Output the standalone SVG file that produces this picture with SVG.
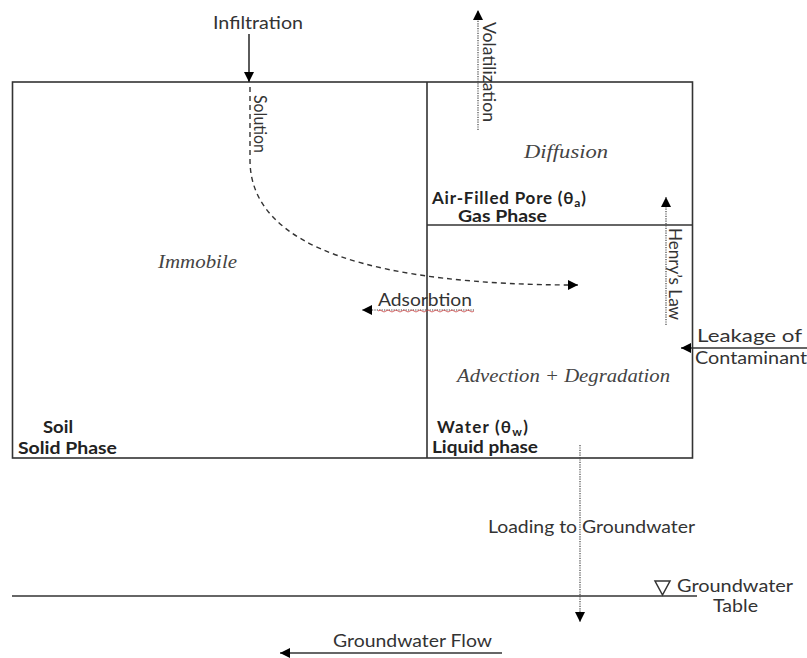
<svg xmlns="http://www.w3.org/2000/svg" width="807" height="658" viewBox="0 0 807 658">
<style>
.s{font-family:Lato,"Open Sans","Liberation Sans",sans-serif;font-size:17px;fill:#333}
.b{font-family:Lato,"Open Sans","Liberation Sans",sans-serif;font-size:17px;font-weight:bold;fill:#222}
.i{font-family:"Liberation Serif",serif;font-size:19px;font-style:italic;fill:#444}
.ln{stroke:#333;stroke-width:1.6;fill:none}
.dot{stroke:#444;stroke-width:1.2;stroke-dasharray:1.2 1.2;fill:none}
</style>
<defs>
<marker id="ah" viewBox="0 0 10 10" refX="10" refY="5" markerWidth="10" markerHeight="10" markerUnits="userSpaceOnUse" orient="auto">
<path d="M0,0 L10,5 L0,10 Z" fill="#000"/>
</marker>
</defs>
<rect width="807" height="658" fill="#fff"/>
<g id="box">
<rect x="12.5" y="82" width="680" height="376" class="ln"/>
<line x1="427" y1="82" x2="427" y2="458" class="ln"/>
<line x1="427" y1="225" x2="692.5" y2="225" class="ln"/>
</g>
<g id="groundwater-table">
<line x1="12" y1="596" x2="697" y2="596" class="ln" stroke-width="1.3"/>
<path d="M655,581 L670,581 L662.5,595 Z" fill="none" stroke="#333" stroke-width="1.5"/>
<text class="s" x="677" y="592" textLength="116" lengthAdjust="spacingAndGlyphs">Groundwater</text>
<text class="s" x="713" y="612" textLength="45" lengthAdjust="spacingAndGlyphs">Table</text>
</g>
<g id="connectors">
<line x1="249" y1="34" x2="249" y2="82" class="ln" marker-end="url(#ah)"/>
<path d="M250,87 L250,160 C250,250 380,285 578,285" stroke="#333" stroke-width="1.4" stroke-dasharray="5 4" fill="none" marker-end="url(#ah)"/>
<line x1="478" y1="130" x2="478" y2="10" class="dot" marker-end="url(#ah)"/>
<line x1="666" y1="325" x2="666" y2="197" class="dot" marker-end="url(#ah)"/>
<line x1="474" y1="310" x2="362" y2="310" class="dot" marker-end="url(#ah)"/>
<line x1="807" y1="348" x2="681" y2="348" class="ln" stroke-width="1.3" marker-end="url(#ah)"/>
<line x1="580" y1="445" x2="580" y2="622" class="dot" marker-end="url(#ah)"/>
<line x1="502" y1="653" x2="280" y2="653" class="ln" stroke-width="1.3" marker-end="url(#ah)"/>
</g>
<g id="labels">
<text class="s" x="213" y="29" textLength="90" lengthAdjust="spacingAndGlyphs">Infiltration</text>
<text class="s" transform="translate(254,95) rotate(90)" textLength="58" lengthAdjust="spacingAndGlyphs">Solution</text>
<text class="s" transform="translate(483,22) rotate(90)" textLength="100" lengthAdjust="spacingAndGlyphs">Volatilization</text>
<text class="s" transform="translate(669,228) rotate(90)" textLength="92" lengthAdjust="spacingAndGlyphs">Henry’s Law</text>
<text class="s" x="378" y="306" textLength="94" lengthAdjust="spacingAndGlyphs">Adsorbtion</text>
<path d="M378,311 q2,-2 4,0 t4,0 t4,0 t4,0 t4,0 t4,0 t4,0 t4,0 t4,0 t4,0 t4,0 t4,0 t4,0 t4,0 t4,0 t4,0 t4,0 t4,0 t4,0 t4,0 t4,0 t4,0 t4,0 t4,0" stroke="#c44" stroke-width="0.8" fill="none"/>
<text class="s" x="697" y="342" textLength="105" lengthAdjust="spacingAndGlyphs">Leakage of</text>
<text class="s" x="695" y="364" textLength="112" lengthAdjust="spacingAndGlyphs">Contaminant</text>
<text class="s" x="488" y="533" textLength="207" lengthAdjust="spacingAndGlyphs">Loading to Groundwater</text>
<text class="s" x="333" y="647" textLength="159" lengthAdjust="spacingAndGlyphs">Groundwater Flow</text>
</g>
<g id="air">
<text class="i" x="524" y="158" textLength="84" lengthAdjust="spacingAndGlyphs">Diffusion</text>
<text class="b" x="432" y="204" font-size="18" letter-spacing="0.8">Air-Filled Pore (θ<tspan font-size="12" dy="3">a</tspan><tspan dy="-3">)</tspan></text>
<text class="b" x="458" y="222" textLength="89" lengthAdjust="spacingAndGlyphs">Gas Phase</text>
</g>
<g id="soil">
<text class="i" x="158" y="268" textLength="79" lengthAdjust="spacingAndGlyphs">Immobile</text>
<text class="b" x="43" y="433" textLength="30" lengthAdjust="spacingAndGlyphs">Soil</text>
<text class="b" x="18" y="454" textLength="99" lengthAdjust="spacingAndGlyphs">Solid Phase</text>
</g>
<g id="water">
<text class="i" x="457" y="382" textLength="213" lengthAdjust="spacingAndGlyphs">Advection + Degradation</text>
<text class="b" x="437" y="433" font-size="18" letter-spacing="1.2">Water (θ<tspan font-size="12" dy="3">w</tspan><tspan dy="-3">)</tspan></text>
<text class="b" x="432" y="453" textLength="106" lengthAdjust="spacingAndGlyphs">Liquid phase</text>
</g>
</svg>
